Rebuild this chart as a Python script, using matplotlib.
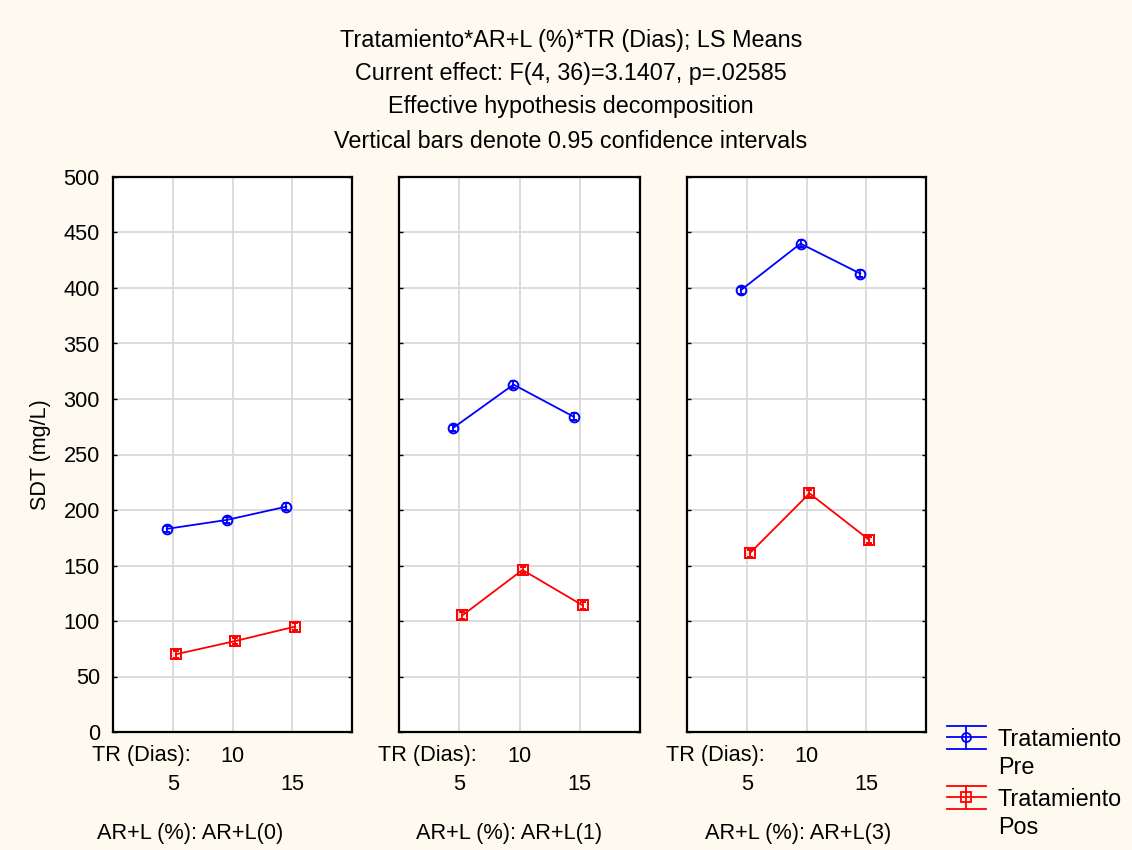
import matplotlib
matplotlib.use("Agg")
import matplotlib.pyplot as plt
from matplotlib.lines import Line2D
import numpy as np

plt.rcParams["font.family"] = ["Liberation Sans", "DejaVu Sans"]

# ── datos ────────────────────────────────────────────────────────────────────
dias = ["5", "10", "15"]
grupos = ["AR+L(0)", "AR+L(1)", "AR+L(3)"]
pre = [
    [183, 191, 203],
    [274, 313, 284],
    [398, 440, 413],
]
pos = [
    [70, 82, 95],
    [105, 146, 114],
    [161, 215, 173],
]
ci_pre = [[3, 3, 3], [3, 3, 3], [3, 3, 3]]
ci_pos = [[3, 3, 3], [3, 3, 3], [3, 3, 3]]
titulo = [
    "Tratamiento*AR+L (%)*TR (Dias); LS Means",
    "Current effect: F(4, 36)=3.1407, p=.02585",
    "Effective hypothesis decomposition",
    "Vertical bars denote 0.95 confidence intervals",
]

W, H = 1132, 850
BG = "#FFFAF0"
fig = plt.figure(figsize=(W / 100, H / 100), dpi=100, facecolor=BG)

# capa de texto en píxeles
ov = fig.add_axes([0, 0, 1, 1], facecolor="none")
ov.set_xlim(0, W)
ov.set_ylim(H, 0)
ov.set_axis_off()

lefts = [113, 399, 687]
widths = [239, 241, 239]
top, bottom = 177, 732
fs = 15.7
x = np.arange(1, 4)

for k in range(3):
    ax = fig.add_axes([lefts[k] / W, 1 - bottom / H, widths[k] / W, (bottom - top) / H])
    ax.set_facecolor("white")
    ax.errorbar(x - 0.1, pre[k], yerr=ci_pre[k], color="blue", lw=1.3,
                marker="o", ms=7, mfc="none", mew=1.4, capsize=2, capthick=1,
                zorder=3)
    ax.errorbar(x + 0.05, pos[k], yerr=ci_pos[k], color="red", lw=1.3,
                marker="s", ms=6.5, mfc="none", mew=1.4, capsize=2, capthick=1,
                zorder=3)
    ax.set_xlim(0, 4)
    ax.set_ylim(0, 500)
    ax.set_xticks(x)
    ax.set_yticks(np.arange(0, 501, 50))
    ax.grid(True, color="#D9D9D9", lw=1.3)
    ax.set_axisbelow(True)
    ax.tick_params(axis="x", length=0, labelbottom=False)
    ax.tick_params(axis="y", direction="in", length=3, width=1, right=True,
                   labelsize=fs, pad=9.5, labelleft=(k == 0))
    for s in ax.spines.values():
        s.set_linewidth(1.6)
    if k == 0:
        ax.set_ylabel("SDT (mg/L)", fontsize=15.5, labelpad=9)

    # etiquetas del eje x
    l, w = lefts[k], widths[k]
    ov.text(l - 21, 756, "TR (Dias):", fontsize=fs, va="center", ha="left")
    for i, d in enumerate(dias):
        px = l + w * (i + 1) / 4
        py = 756 if i == 1 else 784
        ov.text(px, py, d, fontsize=fs, va="center", ha="center")
    off = [-16, 17, 18][k]
    ov.text(l + off, 833, "AR+L (%): " + grupos[k], fontsize=fs,
            va="center", ha="left")

for i, t in enumerate(titulo):
    ov.text(571, [40, 73, 106, 141][i], t, fontsize=16.8, ha="center", va="center")

# leyenda
for yc, col, mk, lab in [(737, "blue", "o", "Pre"), (797, "red", "s", "Pos")]:
    for dy in (-11.5, 0, 11.5):
        ov.add_line(Line2D([947, 986], [yc + dy, yc + dy], color=col, lw=1.3))
    ov.add_line(Line2D([966, 966], [yc - 11.5, yc + 11.5], color=col, lw=1.3))
    ov.plot([966], [yc], marker=mk, ms=6.5, mfc="none", mec=col, mew=1.3)
    ov.text(998, yc + 3, "Tratamiento", fontsize=16.8, va="center", ha="left")
    ov.text(998, yc + 31, lab, fontsize=16.8, va="center", ha="left")

fig.savefig("out.png", dpi=100, facecolor=BG)
